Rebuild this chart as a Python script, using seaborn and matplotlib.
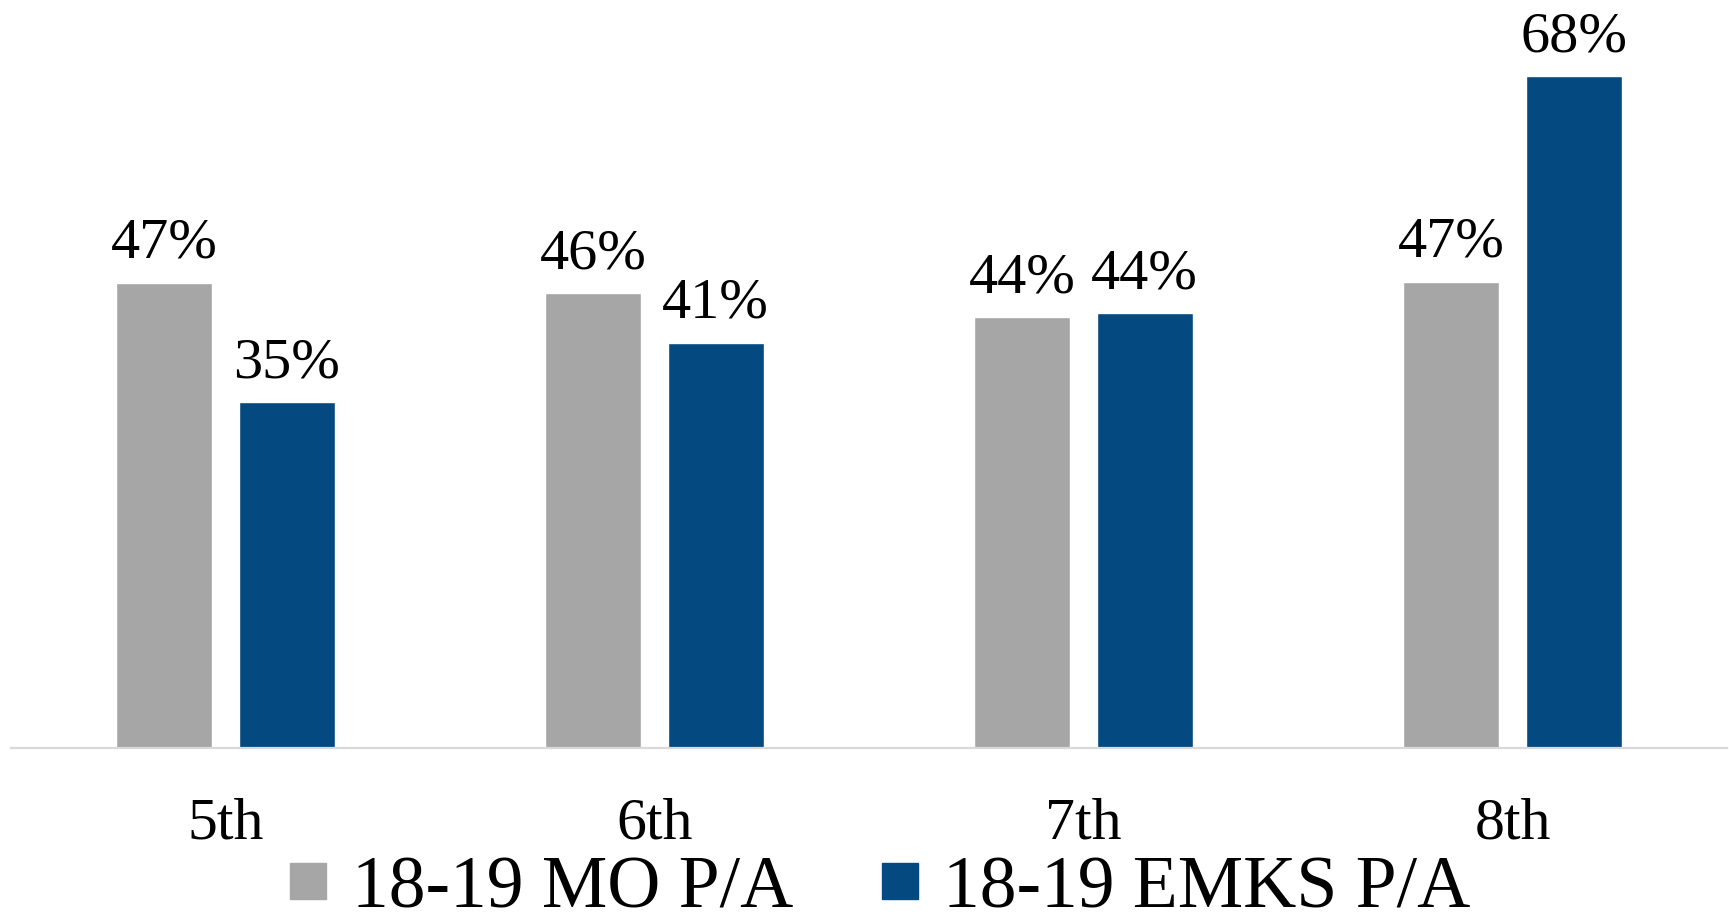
import matplotlib
matplotlib.use("Agg")
import matplotlib.pyplot as plt
from matplotlib.lines import Line2D
import seaborn as sns
import pandas as pd

# Share of students scoring Proficient/Advanced, by grade
grades = ["5th", "6th", "7th", "8th"]
mo_values = [47.1, 46.0, 43.6, 47.2]
emks_values = [35.0, 41.0, 44.0, 68.0]
series_names = ["18-19 MO P/A", "18-19 EMKS P/A"]
colors = ["#A6A6A6", "#044A80"]

df = pd.DataFrame({
    "grade": grades * 2,
    "pct": mo_values + emks_values,
    "series": [series_names[0]] * len(grades) + [series_names[1]] * len(grades),
})

sns.set_theme(style="white")
plt.rcParams["font.family"] = ["Liberation Serif", "DejaVu Serif"]
plt.rcParams["text.color"] = "black"

fig = plt.figure(figsize=(17.29, 9.2), dpi=100)
ax = fig.add_axes([11 / 1729, 171 / 920, 1716 / 1729, 749 / 920])

sns.barplot(data=df, x="grade", y="pct", hue="series", order=grades,
            hue_order=series_names, palette=colors, width=0.571, gap=0.216,
            saturation=1, legend=False, ax=ax)

for container in ax.containers:
    ax.bar_label(container, labels=[f"{v:.0f}%" for v in container.datavalues],
                 padding=10, fontsize=42, color="black")

ax.set_xlim(-0.5, 3.5)
ax.set_ylim(0, 75.8)
ax.set_xlabel("")
ax.set_ylabel("")
ax.set_yticks([])
ax.tick_params(axis="x", length=0, pad=35, labelsize=43, labelcolor="black")

for side in ["top", "right", "left"]:
    ax.spines[side].set_visible(False)
ax.spines["bottom"].set_color("#D9D9D9")
ax.spines["bottom"].set_linewidth(1.6)

handles = [Line2D([0], [0], marker="s", linestyle="none", markersize=26,
                  markerfacecolor=c, markeredgecolor=c) for c in colors]
leg = fig.legend(handles, series_names, loc="lower center", ncol=2,
                 bbox_to_anchor=(0.509, -0.004), frameon=False, fontsize=53,
                 handlelength=0.5, handletextpad=0.34, columnspacing=1.2,
                 borderpad=0, borderaxespad=0)
for t in leg.get_texts():
    t.set_color("black")

fig.savefig("out.png", dpi=100)
